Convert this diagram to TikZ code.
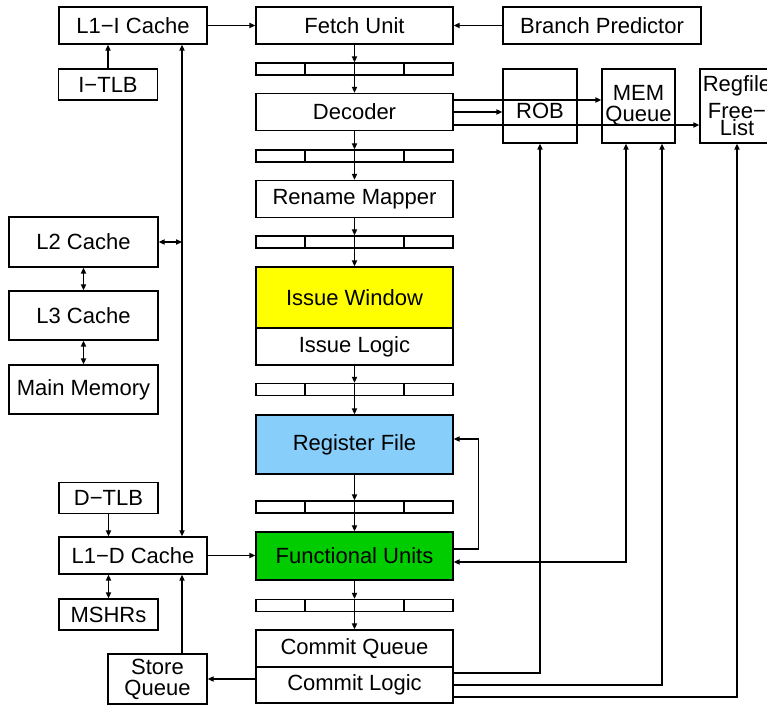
\documentclass[tikz,border=0pt]{standalone}
\usepackage{fontspec}
\setmainfont{Liberation Sans}
\usetikzlibrary{arrows.meta,positioning,calc}

\definecolor{iwyellow}{RGB}{255,255,0}
\definecolor{rfblue}{RGB}{135,206,250}
\definecolor{fugreen}{RGB}{0,204,0}

\tikzset{
	unit/.style={draw, inner sep=0pt, minimum width=98.5pt, minimum height=18.5pt,
		font=\fontsize{11}{10.5}\selectfont, align=center},
	cache/.style={unit, minimum width=74pt},
	small/.style={unit, minimum width=49.5pt, minimum height=15.5pt},
	side/.style={unit, minimum width=37pt, minimum height=37pt},
	latch/.style={draw, inner sep=0pt, minimum width=98.5pt, minimum height=6pt},
}

\begin{document}
\begin{tikzpicture}[x=0.5pt,y=-0.5pt,line width=0.7pt,>={Triangle[length=3pt,width=2.6pt]}]
\useasboundingbox (0,0) rectangle (767,705);

\node[unit] (fetch) at (354.5,25.5) {Fetch Unit};
\node[latch] (reg1) at (354.5,69) {};
\node[unit] (decoder) at (354.5,112) {Decoder};
\node[latch] (reg2) at (354.5,156) {};
\node[unit] (rename) at (354.5,199) {Rename Mapper};
\node[latch] (reg3) at (354.5,242) {};
\node[unit, fill=iwyellow, minimum height=30.5pt] (iwin) at (354.5,297.5) {Issue Window};
\node[unit] (ilogic) at (354.5,346.5) {Issue Logic};
\node[latch] (reg4) at (354.5,389.5) {};
\node[unit, fill=rfblue, minimum height=29.5pt] (regfile) at (354.5,444.5) {Register File};
\node[latch] (reg5) at (354.5,507) {};
\node[unit, fill=fugreen, minimum height=24pt] (fu) at (354.5,556) {Functional Units};
\node[latch] (reg6) at (354.5,605.5) {};
\node[unit] (cq) at (354.5,648.5) {Commit Queue};
\node[unit, minimum height=18pt] (cl) at (354.5,685) {Commit Logic};

\node[cache] (l1i) at (133,25.5) {L1−I Cache};
\node[small] (itlb) at (108,84.5) {I−TLB};
\node[cache, minimum width=74.5pt, minimum height=25pt] (l2) at (83.5,242) {L2 Cache};
\node[cache, minimum width=74.5pt, minimum height=24.5pt] (l3) at (83.5,315.5) {L3 Cache};
\node[cache, minimum width=74.5pt, minimum height=24.5pt] (mainmem) at (83.5,389.5) {Main Memory};
\node[small] (dtlb) at (108.5,498) {D−TLB};
\node[cache] (l1d) at (133,555.5) {L1−D Cache};
\node[small] (mshr) at (108.5,614.5) {MSHRs};
\node[small, minimum height=25pt] (stq) at (157.5,679) {Store\\Queue};

\node[unit, minimum width=99pt] (bpred) at (602,25.5) {Branch Predictor};
\node[side, text height=13pt] (rob) at (540,106) {ROB};
\node[side, minimum width=36.5pt] (memq) at (638.5,106) {MEM\\Queue};
\node[side] (freelist) at (737,106) {Regfile\\[3pt]Free−\\[-2pt]List};

% pipeline latches
\foreach \r in {reg1,reg2,reg3,reg4,reg5,reg6}
	\foreach \f in {0.25,0.75}
		\draw ($(\r.north west)!\f!(\r.north east)$) -- ($(\r.south west)!\f!(\r.south east)$);

\foreach \u/\r in {fetch/reg1,decoder/reg2,rename/reg3,ilogic/reg4,regfile/reg5,fu/reg6}
	\draw[->] (\u) -- (\r);
\foreach \r/\u in {reg1/decoder,reg2/rename,reg3/iwin,reg4/regfile,reg5/fu,reg6/cq}
	\draw[->] (\r.north) -- (\u.north);

% memory side
\coordinate (bus) at (182,0);
\draw[->] (l1i) -- (fetch);
\draw[->] (bpred) -- (fetch);
\draw[->] (itlb.north) -- (itlb.north |- l1i.south);
\draw[<->] (bus |- l1i.south) -- (bus |- l1d.north);
\draw[<->] (l2.east) -- (bus |- l2.east);
\draw[<->] (l2) -- (l3);
\draw[<->] (l3) -- (mainmem);
\draw[->] (dtlb.south) -- (dtlb.south |- l1d.north);
\draw[<->] (mshr.north |- l1d.south) -- (mshr.north);
\draw[->] (bus |- stq.north) -- (bus |- l1d.south);
\draw[->] (l1d.east) -- (l1d.east -| fu.west);
\draw[->] (cl.west |- stq.east) -- (stq.east);

% decoder to back end
\draw[->] ([yshift=6pt]decoder.east) coordinate (d1) -- (d1 -| memq.west);
\draw[->] (decoder.east) -- (decoder.east -| rob.west);
\draw[->] ([yshift=-6.5pt]decoder.east) coordinate (d3) -- (d3 -| freelist.west);

% feedback and commit
\coordinate (fuout) at ([yshift=3.5pt]fu.east);
\coordinate (rfin) at ([yshift=2.75pt]regfile.east);
\draw[->] (fuout) -- ++(25,0) |- (rfin);
\draw[->] ([yshift=6pt]cl.east) -| (rob.south);
\draw[<->] ([yshift=-3pt]fu.east) -| ([xshift=-6.25pt]memq.south);
\draw[->] (cl.east) -| ([xshift=11.75pt]memq.south);
\draw[->] ([yshift=-6pt]cl.east) -| (freelist.south);

\end{tikzpicture}
\end{document}
